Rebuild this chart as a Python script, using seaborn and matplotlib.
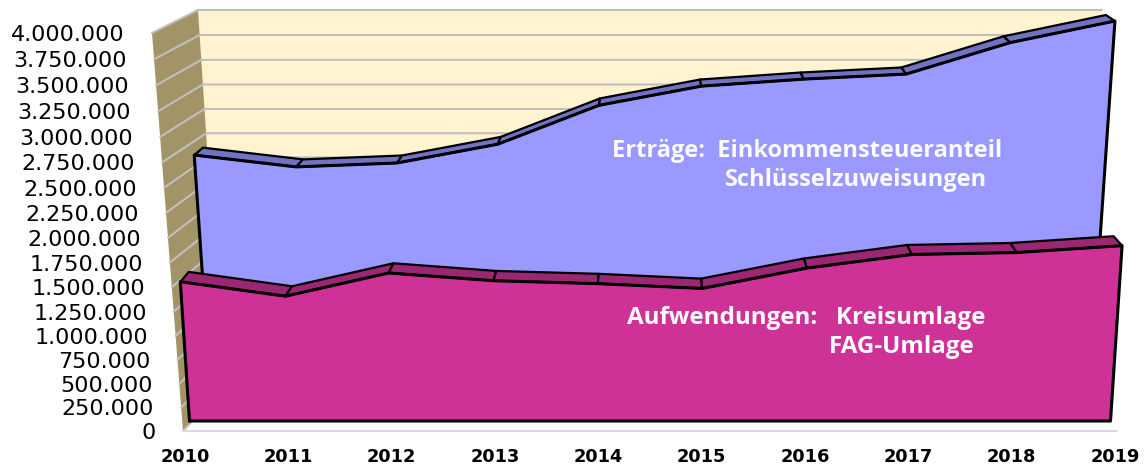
# -*- coding: utf-8 -*-
import pandas as pd
import matplotlib
matplotlib.use("Agg")
import matplotlib.pyplot as plt
import seaborn as sns

sns.set_theme(style="white")
plt.rcParams['font.family'] = ['DejaVu Sans']

years = [2010, 2011, 2012, 2013, 2014, 2015, 2016, 2017, 2018, 2019]
ertraege = [2660000, 2540000, 2580000, 2770000, 3160000, 3350000, 3420000, 3470000, 3780000, 3990000]
aufwendungen = [1470000, 1320000, 1560000, 1480000, 1450000, 1400000, 1610000, 1750000, 1770000, 1840000]
y_ticks = list(range(0, 4000001, 250000))
y_labels = [f"{t:,}".replace(",", ".") for t in y_ticks]

V_MAX = 4000000
CENTER = 650
R = 1.06

# the excel chart is 3d, so every depth plane has its own bottom/top y and half width
WALL_FRONT = (431, 33, 467, 498)
WALL_BACK = (389, 10, 427, 452)
PINK_FRONT = (421, 27.5, 460.5, 486.5)
PINK_BACK = (410, 20, 452, 478)
BLUE_FRONT = (408, 20, 438.5, 465)
BLUE_BACK = (398, 14, 430, 456)


def proj(pos, value, plane):
    y0, y4, w0, w4 = plane
    u = value / V_MAX
    t = u / (u + (1 - u) * R)
    y = y0 + (y4 - y0) * t
    w = w0 + (w4 - w0) * t
    return CENTER + (pos - 4.5) / 4.5 * w, y


def draw_slab(ax, values, front, back, face, top, z):
    n = len(values)
    pts = [proj(i, values[i], front) for i in range(n)]
    pts_back = [proj(i, values[i], back) for i in range(n)]
    # front face
    poly = [proj(0, 0, front)] + pts + [proj(n - 1, 0, front)]
    ax.fill(*zip(*poly), facecolor=face, edgecolor='none', zorder=z)
    # top strips
    for i in range(n - 1):
        quad = [pts[i], pts[i + 1], pts_back[i + 1], pts_back[i]]
        ax.fill(*zip(*quad), facecolor=top, edgecolor='black', linewidth=1.6,
                joinstyle='round', zorder=z + 1)
    outline = pd.DataFrame(poly + [poly[0]], columns=['x', 'y'])
    sns.lineplot(data=outline, x='x', y='y', sort=False, estimator=None, color='black',
                 linewidth=2.2, ax=ax, zorder=z + 2)


fig = plt.figure(figsize=(11.45, 4.68), dpi=100)
ax = fig.add_axes([0, 0, 1, 1])
ax.set_xlim(0, 1145)
ax.set_ylim(468, 0)
ax.axis('off')

# walls
last = len(years) - 1
back_wall = [proj(0, 0, WALL_BACK), proj(0, V_MAX, WALL_BACK),
             proj(last, V_MAX, WALL_BACK), proj(last, 0, WALL_BACK)]
side_wall = [proj(0, 0, WALL_FRONT), proj(0, V_MAX, WALL_FRONT),
             proj(0, V_MAX, WALL_BACK), proj(0, 0, WALL_BACK)]
ax.fill(*zip(*back_wall), facecolor='#FFF3D0', edgecolor='none', zorder=1)
ax.fill(*zip(*side_wall), facecolor='#A39467', edgecolor='none', zorder=1)

for t, lab in zip(y_ticks, y_labels):
    a = proj(0, t, WALL_FRONT)
    b = proj(0, t, WALL_BACK)
    c = proj(last, t, WALL_BACK)
    ax.plot([a[0], b[0], c[0]], [a[1], b[1], c[1]], color='#BFBFBF', linewidth=1.5, zorder=2)
    ax.text(a[0] - 27, a[1] + 2, lab, ha='right', va='center', fontsize=16, color='black')

# floor edge
f0 = proj(0, 0, WALL_FRONT)
f1 = proj(last, 0, WALL_FRONT)
ax.plot([f0[0], f1[0]], [f0[1], f1[1]], color='#D9D9D9', linewidth=1.5, zorder=2)

draw_slab(ax, ertraege, BLUE_FRONT, BLUE_BACK, '#9999FF', '#7272C2', 3)
draw_slab(ax, aufwendungen, PINK_FRONT, PINK_BACK, '#CF3296', '#9C2673', 7)

for i, yr in enumerate(years):
    ax.text(CENTER + (i - 4.5) / 4.5 * 465, 457, str(yr), ha='center', va='center',
            fontsize=12.8, fontweight='bold', color='black')

txt = dict(family='Open Sans', fontweight='bold', color='#FAFAFF', zorder=12, va='center')
ax.text(1002, 151, 'Erträge:  Einkommensteueranteil', ha='right', fontsize=17, **txt)
ax.text(987, 180, 'Schlüsselzuweisungen', ha='right', fontsize=17, **txt)
ax.text(985, 318, 'Aufwendungen:   Kreisumlage', ha='right', fontsize=17.4, **txt)
ax.text(975, 347, 'FAG-Umlage', ha='right', fontsize=17.4, **txt)

ax.set_xlabel('')
ax.set_ylabel('')
fig.savefig('out.png', dpi=100)
